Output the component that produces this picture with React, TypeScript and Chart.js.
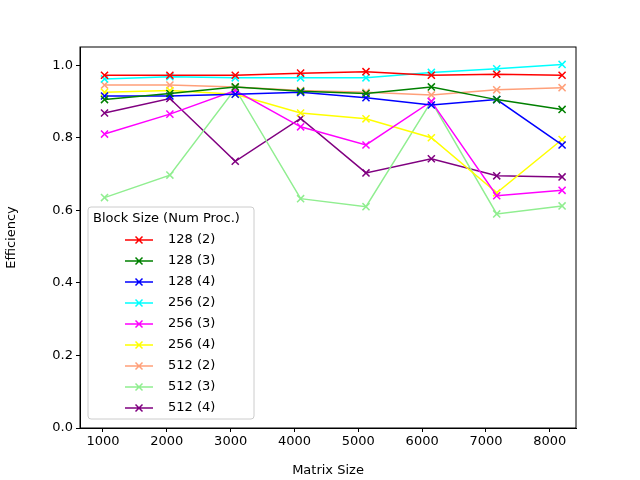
import { Chart, registerables } from "chart.js";
import React from "react";

Chart.register(...registerables);

const matrixSizes = [1024, 2048, 3072, 4096, 5120, 6144, 7168, 8192];
const seriesLabels = ["128 (2)", "128 (3)", "128 (4)", "256 (2)", "256 (3)", "256 (4)", "512 (2)", "512 (3)", "512 (4)"];
const seriesColors = ["red", "green", "blue", "cyan", "magenta", "yellow", "lightsalmon", "lightgreen", "purple"];
const b128p2 = [0.972, 0.972, 0.972, 0.978, 0.982, 0.972, 0.975, 0.972];
const b128p3 = [0.905, 0.922, 0.94, 0.928, 0.922, 0.94, 0.905, 0.878];
const b128p4 = [0.915, 0.915, 0.92, 0.925, 0.91, 0.89, 0.905, 0.78];
const b256p2 = [0.962, 0.968, 0.965, 0.965, 0.965, 0.98, 0.99, 1.002];
const b256p3 = [0.81, 0.865, 0.93, 0.83, 0.78, 0.9, 0.64, 0.655];
const b256p4 = [0.925, 0.93, 0.92, 0.868, 0.852, 0.8, 0.648, 0.795];
const b512p2 = [0.945, 0.945, 0.94, 0.93, 0.925, 0.918, 0.932, 0.938];
const b512p3 = [0.635, 0.697, 0.935, 0.632, 0.61, 0.9, 0.59, 0.612];
const b512p4 = [0.868, 0.908, 0.735, 0.853, 0.703, 0.742, 0.695, 0.692];
const seriesValues = [b128p2, b128p3, b128p4, b256p2, b256p3, b256p4, b512p2, b512p3, b512p4];
const xTicks = [1000, 2000, 3000, 4000, 5000, 6000, 7000, 8000];
const yTicks = [0, 0.2, 0.4, 0.6, 0.8, 1.0];

const FONT = "DejaVu Sans";

const framePlugin = {
  id: "frameAndLegend",
  afterDatasetsDraw(chart: Chart) {
    const { ctx, chartArea: a } = chart;
    ctx.save();
    ctx.strokeStyle = "black";
    ctx.lineWidth = 1;
    ctx.strokeRect(a.left, a.top, a.right - a.left, a.bottom - a.top);
    // legend
    const lx = a.left + 8, ly = 207, lw = 166, lh = 212;
    ctx.fillStyle = "rgba(255,255,255,0.8)";
    ctx.strokeStyle = "#cccccc";
    ctx.beginPath();
    ctx.roundRect(lx, ly, lw, lh, 3);
    ctx.fill();
    ctx.stroke();
    ctx.fillStyle = "black";
    ctx.font = `13px "${FONT}"`;
    ctx.textBaseline = "middle";
    ctx.fillText("Block Size (Num Proc.)", lx + 5, ly + 12);
    seriesLabels.forEach((lab, i) => {
      const y = ly + 33 + i * 21;
      ctx.strokeStyle = seriesColors[i];
      ctx.lineWidth = 1.5;
      ctx.beginPath();
      ctx.moveTo(lx + 37, y);
      ctx.lineTo(lx + 65, y);
      const cx = lx + 51, r = 3.5;
      ctx.moveTo(cx - r, y - r); ctx.lineTo(cx + r, y + r);
      ctx.moveTo(cx - r, y + r); ctx.lineTo(cx + r, y - r);
      ctx.stroke();
      ctx.fillStyle = "black";
      ctx.fillText(lab, lx + 80, y);
    });
    ctx.restore();
  },
};

export default function App() {
  const ref = React.useRef<HTMLCanvasElement>(null);
  React.useEffect(() => {
    document.body.style.margin = "0";
    if (!ref.current) return;
    const chart = new Chart(ref.current, {
      type: "line",
      data: {
        datasets: seriesLabels.map((label, i) => ({
          label,
          data: matrixSizes.map((x, j) => ({ x, y: seriesValues[i][j] })),
          borderColor: seriesColors[i],
          backgroundColor: seriesColors[i],
          borderWidth: 1.5,
          pointStyle: "crossRot",
          pointRadius: 5,
          pointBorderWidth: 1.5,
          tension: 0,
        })),
      },
      options: {
        animation: false,
        responsive: false,
        layout: { padding: { left: 0, top: 47, right: 64, bottom: 0 } },
        plugins: { legend: { display: false }, tooltip: { enabled: false } },
        scales: {
          x: {
            type: "linear",
            min: 640,
            max: 8410,
            afterBuildTicks: (s: any) => { s.ticks = xTicks.map((value) => ({ value })); },
            afterFit: (s: any) => { s.height = 52; },
            grid: { drawOnChartArea: false, color: "black", tickLength: 4 },
            border: { color: "black" },
            ticks: { color: "black", font: { family: FONT, size: 13 }, padding: 2, maxRotation: 0, callback: (v: any) => String(v) },
            title: { display: true, text: "Matrix Size", color: "black", font: { family: FONT, size: 13 }, padding: 2 },
          },
          y: {
            min: 0,
            max: 1.05,
            afterBuildTicks: (s: any) => { s.ticks = yTicks.map((value) => ({ value })); },
            afterFit: (s: any) => { s.width = 80; },
            grid: { drawOnChartArea: false, color: "black", tickLength: 4 },
            border: { color: "black" },
            ticks: { color: "black", font: { family: FONT, size: 13 }, padding: 3, callback: (v: any) => Number(v).toFixed(1) },
            title: { display: true, text: "Efficiency", color: "black", font: { family: FONT, size: 13 }, padding: 4 },
          },
        },
      },
      plugins: [framePlugin],
    } as any);
    return () => chart.destroy();
  }, []);
  return <canvas ref={ref} width={640} height={480} style={{ display: "block" }} />;
}
